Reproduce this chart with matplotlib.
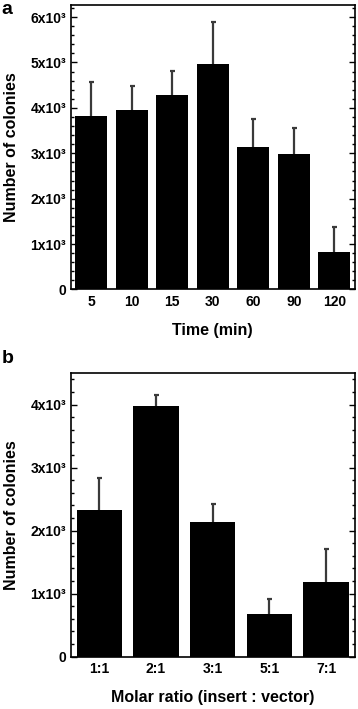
import matplotlib
matplotlib.use("Agg")
import matplotlib.pyplot as plt
from matplotlib.ticker import MultipleLocator, FuncFormatter

plt.rcParams["font.family"] = ["Liberation Sans", "DejaVu Sans"]
plt.rcParams["font.weight"] = "bold"

# panel a - incubation time
time_labels = ["5", "10", "15", "30", "60", "90", "120"]
time_means = [3830, 3950, 4285, 4970, 3130, 2985, 825]
time_err = [740, 530, 520, 930, 625, 570, 545]

# panel b - molar ratio
ratio_labels = ["1:1", "2:1", "3:1", "5:1", "7:1"]
ratio_means = [2330, 3980, 2140, 680, 1190]
ratio_err = [500, 165, 280, 230, 515]


def fmt_sci(v, pos):
    if v == 0:
        return "0"
    return "%dx10³" % round(v / 1000)


def draw_panel(ax, labels, means, errs, ymax, xlabel):
    x = list(range(len(labels)))
    # symmetric error bars behind the bars, so only the upper half shows
    ax.errorbar(x, means, yerr=errs, fmt="none", ecolor="#3a3a3a",
                elinewidth=1.6, capsize=1.8, capthick=1.6, zorder=1)
    ax.bar(x, means, width=0.8, color="black", zorder=2)
    ax.set_xlim(-0.5, len(labels) - 0.5)
    ax.set_ylim(0, ymax)
    ax.set_xticks(x)
    ax.set_xticklabels(labels, fontsize=10, fontweight="bold")
    ax.yaxis.set_major_locator(MultipleLocator(1000))
    ax.yaxis.set_minor_locator(MultipleLocator(200))
    ax.yaxis.set_major_formatter(FuncFormatter(fmt_sci))
    ax.tick_params(axis="y", which="both", direction="in", left=True, right=True,
                   labelsize=10, width=1.0)
    ax.tick_params(axis="y", which="major", length=4.5)
    ax.tick_params(axis="y", which="minor", length=2.5)
    ax.tick_params(axis="x", length=0, pad=4)
    for lab in ax.get_yticklabels():
        lab.set_fontweight("bold")
    for sp in ax.spines.values():
        sp.set_linewidth(1.2)
    ax.set_xlabel(xlabel, fontsize=11.5, fontweight="bold", labelpad=10)
    ax.set_ylabel("Number of colonies", fontsize=11.5, fontweight="bold")
    ax.yaxis.set_label_coords(-0.185, 0.5)


fig = plt.figure(figsize=(3.58, 7.09), dpi=100)
ax_a = fig.add_axes([0.1983, 0.5917, 0.792, 0.4009])
ax_b = fig.add_axes([0.1983, 0.0738, 0.792, 0.4001])

draw_panel(ax_a, time_labels, time_means, time_err, 6260, "Time (min)")
draw_panel(ax_b, ratio_labels, ratio_means, ratio_err, 4500,
           "Molar ratio (insert : vector)")

fig.text(0.005, 0.999, "a", fontsize=14, fontweight="bold", va="top", ha="left")
fig.text(0.005, 0.506, "b", fontsize=14, fontweight="bold", va="top", ha="left")

fig.savefig("out.png", dpi=100)
